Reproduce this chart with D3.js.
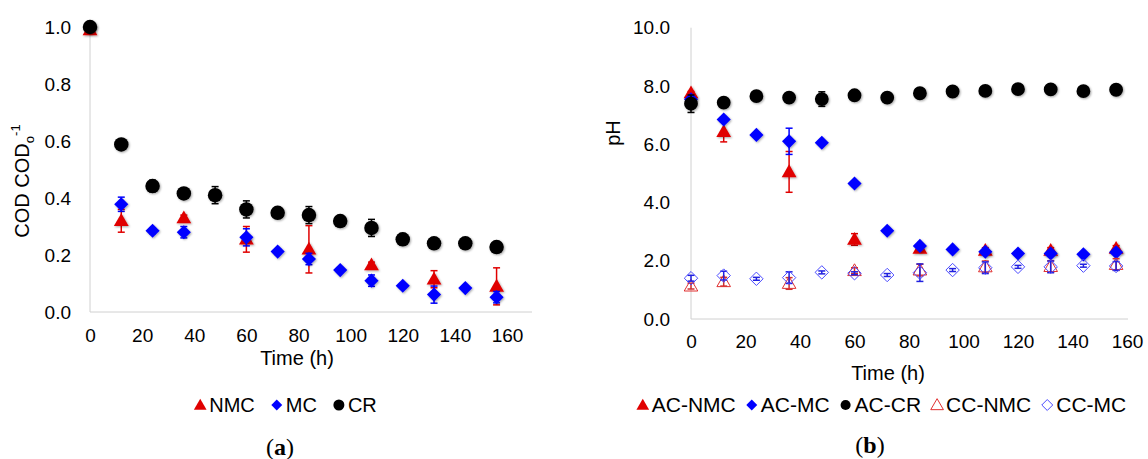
<!DOCTYPE html>
<html lang="en">
<head>
<meta charset="UTF-8">
<title>COD and pH</title>
<style>
  * { margin: 0; padding: 0; }
  body { background: #fff; }
  text { font-family: "Liberation Sans", Arial, sans-serif; fill: #000; }
</style>
</head>
<body>
<div id="chart"></div>
<script src="https://cdn.jsdelivr.net/npm/d3@7/dist/d3.min.js"></script>
<script>
// sampling times (h)
const tAll = [0, 12, 24, 36, 48, 60, 72, 84, 96, 108, 120, 132, 144, 156]
const tNMC = [0, 12, 36, 60, 84, 108, 132, 156]
const tMC = [0, 12, 24, 36, 60, 72, 84, 96, 108, 120, 132, 144, 156]

// (a) COD / COD0
const codNMC = [0.99, 0.32, 0.33, 0.255, 0.22, 0.165, 0.115, 0.09]
const codNMCerr = [0.005, 0.04, 0.01, 0.045, 0.083, 0.01, 0.03, 0.065]
const codMC = [1.0, 0.378, 0.285, 0.28, 0.262, 0.212, 0.186, 0.147, 0.11, 0.092, 0.061, 0.084, 0.052]
const codMCerr = [0, 0.025, 0.01, 0.02, 0.03, 0.01, 0.02, 0.005, 0.02, 0.005, 0.03, 0.005, 0.02]
const codCR = [1.0, 0.588, 0.442, 0.416, 0.41, 0.36, 0.348, 0.34, 0.319, 0.295, 0.255, 0.241, 0.241, 0.228]
const codCRerr = [0, 0.005, 0.02, 0.005, 0.03, 0.03, 0.005, 0.03, 0.005, 0.03, 0.02, 0.005, 0.005, 0.005]

// (b) pH
const phACNMC = [7.76, 6.43, 5.05, 2.73, 2.42, 2.35, 2.35, 2.42]
const phACNMCerr = [0.05, 0.35, 0.7, 0.2, 0.1, 0.1, 0.1, 0.1]
const phACMC = [7.54, 6.85, 6.32, 6.1, 6.05, 4.65, 3.03, 2.51, 2.39, 2.31, 2.25, 2.25, 2.22, 2.29]
const phACMCerr = [0, 0, 0, 0.45, 0, 0, 0, 0, 0, 0, 0, 0, 0, 0]
const phACCR = [7.39, 7.43, 7.65, 7.6, 7.55, 7.68, 7.6, 7.75, 7.81, 7.83, 7.89, 7.88, 7.82, 7.87]
const phACCRerr = [0.3, 0, 0, 0, 0.25, 0, 0, 0, 0, 0, 0, 0, 0, 0]
const phCCNMC = [1.13, 1.28, 1.22, 1.66, 1.68, 1.79, 1.8, 1.87]
const phCCNMCerr = [0.1, 0.15, 0.2, 0.1, 0.2, 0.2, 0.2, 0.2]
const phCCMC = [1.40, 1.49, 1.38, 1.42, 1.6, 1.57, 1.51, 1.59, 1.68, 1.76, 1.79, 1.79, 1.83, 1.82]
const phCCMCerr = [0.1, 0.15, 0.05, 0.2, 0.05, 0.05, 0.05, 0.3, 0.05, 0.2, 0.05, 0.2, 0.05, 0.15]

const xTicks = [0, 20, 40, 60, 80, 100, 120, 140, 160]
const codTicks = [0, 0.2, 0.4, 0.6, 0.8, 1.0]
const phTicks = [0, 2, 4, 6, 8, 10]

const RED = '#e00000', BLUE = '#0000ff', BLACK = '#000'

const svg = d3.select('#chart').append('svg')
  .attr('width', 1148).attr('height', 459)

const defs = svg.append('defs')
defs.append('filter').attr('id', 'shadow')
  .attr('x', '-50%').attr('y', '-50%').attr('width', '200%').attr('height', '200%')
  .append('feDropShadow')
  .attr('dx', 1).attr('dy', 1).attr('stdDeviation', 1.2)
  .attr('flood-color', '#000').attr('flood-opacity', 0.35)

function shape(type, size) {
  if (type === 'triangle') return d3.symbol(d3.symbolTriangle, size)()
  if (type === 'circle') return d3.symbol(d3.symbolCircle, size)()
  // square turned 45 degrees
  const h = Math.sqrt(size) / Math.SQRT2
  return `M0,${-h}L${h},0L0,${h}L${-h},0Z`
}

function drawPanel(cfg) {
  const x = d3.scaleLinear().domain([0, 160]).range(cfg.xRange)
  const y = d3.scaleLinear().domain(cfg.yDomain).range(cfg.yRange)
  const g = svg.append('g')

  // axis lines
  g.append('line').attr('x1', x(0)).attr('x2', x(0))
    .attr('y1', y(cfg.yDomain[0])).attr('y2', y(cfg.yDomain[1]))
    .attr('stroke', '#d0d0d0').attr('stroke-width', 1)
  g.append('line').attr('x1', x(0)).attr('x2', cfg.xEnd)
    .attr('y1', y(cfg.yDomain[0])).attr('y2', y(cfg.yDomain[0]))
    .attr('stroke', '#d0d0d0').attr('stroke-width', 1)

  const xAxis = d3.axisBottom(x).tickValues(xTicks).tickSize(0).tickPadding(cfg.xPad)
  g.append('g').attr('transform', `translate(0,${y(cfg.yDomain[0])})`)
    .call(xAxis)
    .call(a => a.select('.domain').remove())
    .call(a => a.selectAll('text').attr('font-size', 19)
      .attr('font-family', '"Liberation Sans", Arial, sans-serif').attr('fill', '#000'))

  const yAxis = d3.axisLeft(y).tickValues(cfg.yTicks).tickSize(0).tickPadding(cfg.yPad)
    .tickFormat(d3.format('.1f'))
  g.append('g').attr('transform', `translate(${x(0)},0)`)
    .call(yAxis)
    .call(a => a.select('.domain').remove())
    .call(a => a.selectAll('text').attr('font-size', 19)
      .attr('font-family', '"Liberation Sans", Arial, sans-serif').attr('fill', '#000'))

  // series
  cfg.series.forEach(s => {
    const pts = s.t.map((t, i) => ({t, v: s.v[i], e: s.e[i]}))
    const eg = g.append('g').attr('stroke', s.errColor).attr('stroke-width', 1.5)
    pts.filter(p => p.e > 0).forEach(p => {
      const cx = x(p.t), y1 = y(p.v + p.e), y2 = y(p.v - p.e)
      eg.append('line').attr('x1', cx).attr('x2', cx).attr('y1', y1).attr('y2', y2)
      eg.append('line').attr('x1', cx - 3.5).attr('x2', cx + 3.5).attr('y1', y1).attr('y2', y1)
      eg.append('line').attr('x1', cx - 3.5).attr('x2', cx + 3.5).attr('y1', y2).attr('y2', y2)
    })
    g.append('g').selectAll('path').data(pts).join('path')
      .attr('d', shape(s.shape, s.size))
      .attr('transform', p => `translate(${x(p.t)},${y(p.v) + (s.shape === 'triangle' ? 1 : 0)})`)
      .attr('fill', s.open ? 'none' : s.color)
      .attr('stroke', s.open ? s.color : 'none')
      .attr('stroke-width', 1)
      .attr('filter', s.open ? null : 'url(#shadow)')
  })

  // axis titles
  g.append('text').attr('x', cfg.xTitle[0]).attr('y', cfg.xTitle[1])
    .attr('text-anchor', 'middle').attr('font-size', 20).text('Time (h)')
  const yt = g.append('text')
    .attr('transform', `translate(${cfg.yTitle[0]},${cfg.yTitle[1]}) rotate(-90)`)
    .attr('text-anchor', 'middle').attr('font-size', 20)
  cfg.yLabel(yt)

  // legend, centred
  const lg = g.append('g')
  let cursor = 0
  cfg.series.forEach(s => {
    const it = lg.append('g').attr('transform', `translate(${cursor},0)`)
    it.append('path').attr('d', shape(s.shape, s.legSize))
      .attr('transform', `translate(7,${s.shape === 'triangle' ? 1 : 0})`)
      .attr('fill', s.open ? 'none' : s.color)
      .attr('stroke', s.open ? s.color : 'none')
    const tx = it.append('text').attr('x', 16).attr('y', 7).attr('font-size', cfg.legFont).text(s.name)
    cursor += 16 + tx.node().getComputedTextLength() + cfg.legGap
  })
  const lw = cursor - cfg.legGap
  lg.attr('transform', `translate(${cfg.legend[0] - lw / 2},${cfg.legend[1]})`)

  // panel caption
  const cap = g.append('text').attr('x', cfg.caption[0]).attr('y', cfg.caption[1])
    .attr('text-anchor', 'middle').attr('font-size', 24)
    .style('font-family', '"Liberation Serif", "DejaVu Serif", serif')
  cap.append('tspan').text('(')
  cap.append('tspan').attr('font-weight', 'bold').text(cfg.letter)
  cap.append('tspan').text(')')
}

drawPanel({
  xRange: [90, 507], xEnd: 532,
  yDomain: [0, 1], yRange: [312, 27], yTicks: codTicks,
  xPad: 17, yPad: 19,
  xTitle: [297, 365], yTitle: [29, 181],
  yLabel: t => {
    t.append('tspan').text('COD COD')
    t.append('tspan').attr('font-size', 13).attr('dy', 5).text('o')
    t.append('tspan').attr('font-size', 13).attr('dy', -14).text('-1')
  },
  legend: [285, 405], legGap: 15, legFont: 20,
  caption: [280, 455], letter: 'a',
  series: [
    {name: 'NMC', t: tNMC, v: codNMC, e: codNMCerr, shape: 'triangle', color: RED, errColor: RED, size: 95, legSize: 70},
    {name: 'MC', t: tMC, v: codMC, e: codMCerr, shape: 'diamond', color: BLUE, errColor: BLUE, size: 100, legSize: 60},
    {name: 'CR', t: tAll, v: codCR, e: codCRerr, shape: 'circle', color: BLACK, errColor: BLACK, size: 165, legSize: 95}
  ]
})

drawPanel({
  xRange: [691, 1127], xEnd: 1128,
  yDomain: [0, 10], yRange: [319, 27.7], yTicks: phTicks,
  xPad: 16, yPad: 21,
  xTitle: [888, 380], yTitle: [620, 133],
  yLabel: t => t.text('pH'),
  legend: [881, 405], legGap: 9, legFont: 21,
  caption: [870, 453], letter: 'b',
  series: [
    {name: 'AC-NMC', t: tNMC, v: phACNMC, e: phACNMCerr, shape: 'triangle', color: RED, errColor: RED, size: 95, legSize: 70},
    {name: 'AC-MC', t: tAll, v: phACMC, e: phACMCerr, shape: 'diamond', color: BLUE, errColor: BLUE, size: 100, legSize: 60},
    {name: 'AC-CR', t: tAll, v: phACCR, e: phACCRerr, shape: 'circle', color: BLACK, errColor: BLACK, size: 150, legSize: 80},
    {name: 'CC-NMC', t: tNMC, v: phCCNMC, e: phCCNMCerr, shape: 'triangle', color: '#e03030', errColor: '#d03030', size: 80, legSize: 70, open: true},
    {name: 'CC-MC', t: tAll, v: phCCMC, e: phCCMCerr, shape: 'diamond', color: '#4a4aff', errColor: '#2020e0', size: 90, legSize: 60, open: true}
  ]
})
</script>
</body>
</html>
